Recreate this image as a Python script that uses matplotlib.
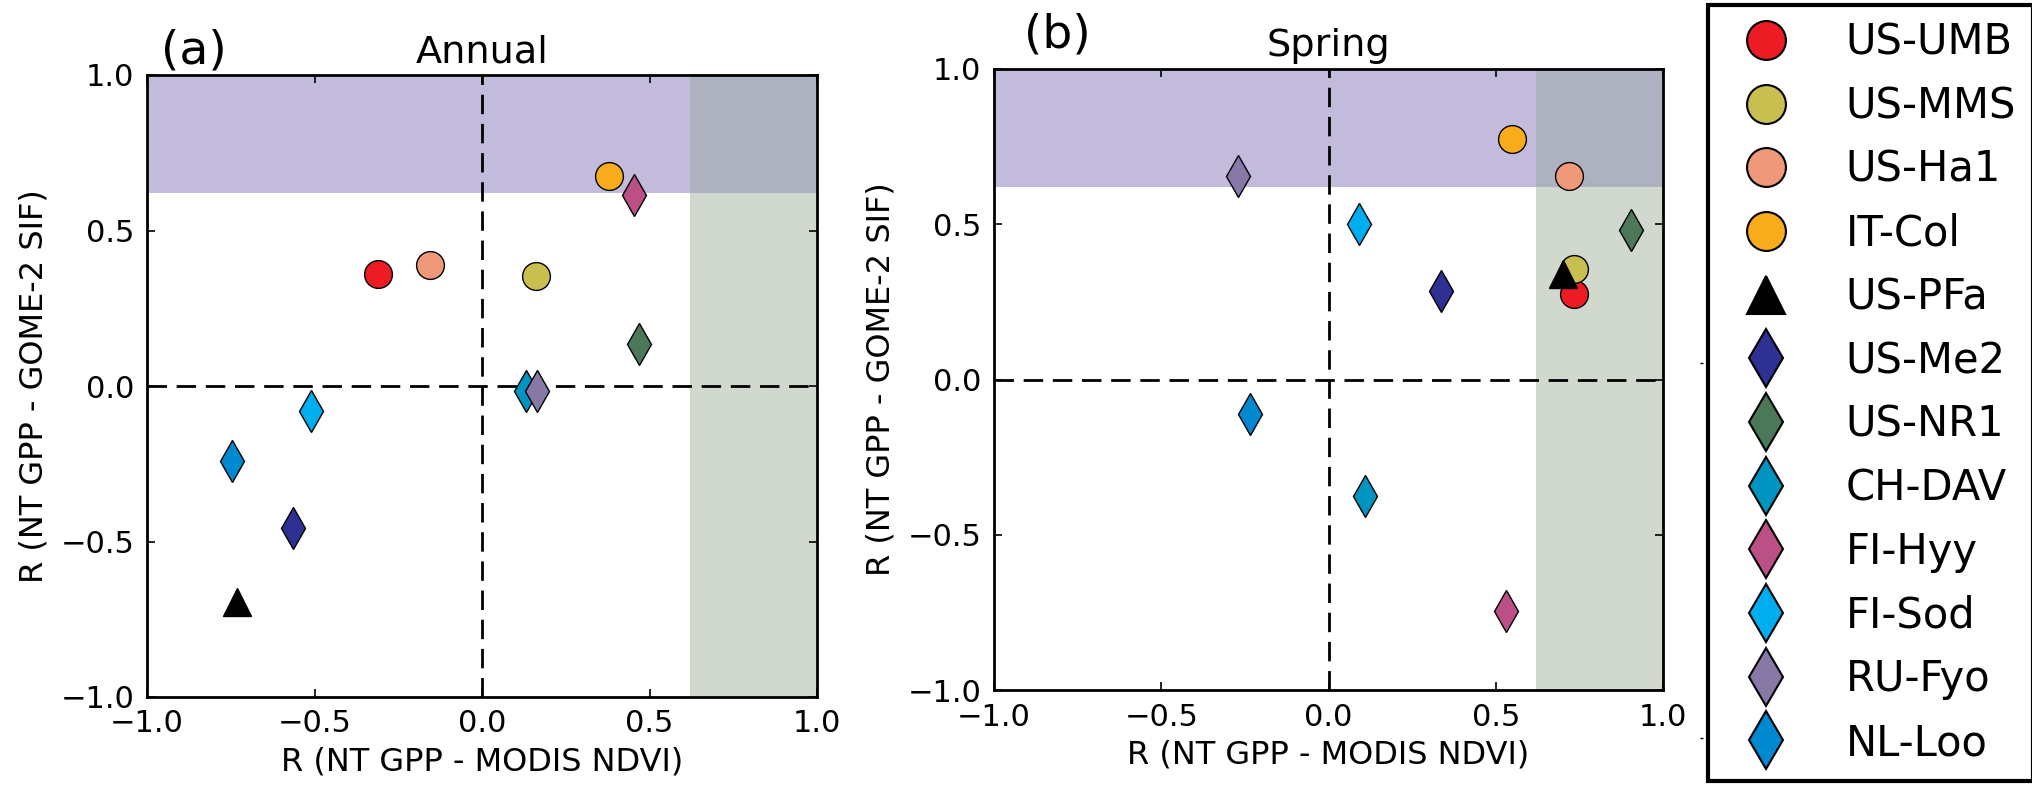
import numpy as np
import matplotlib
matplotlib.use("Agg")
import matplotlib.pyplot as plt
from matplotlib.patches import Rectangle
from matplotlib.lines import Line2D

# Site list and style per site
sites = ["US-UMB", "US-MMS", "US-Ha1", "IT-Col", "US-PFa", "US-Me2",
         "US-NR1", "CH-DAV", "FI-Hyy", "FI-Sod", "RU-Fyo", "NL-Loo"]
colors = ["#ed1c24", "#c9bf50", "#f0997a", "#f8ac1c", "#000000", "#2e3192",
          "#4a7858", "#0095c0", "#bb5086", "#00aeef", "#8878a8", "#0088d1"]
markers = ["o", "o", "o", "o", "^", "d", "d", "d", "d", "d", "d", "d"]

# R (NT GPP - MODIS NDVI) and R (NT GPP - GOME-2 SIF)
x_annual = [-0.31, 0.16, -0.155, 0.38, -0.73, -0.565, 0.47, 0.13, 0.455, -0.51, 0.165, -0.745]
y_annual = [0.36, 0.355, 0.39, 0.675, -0.695, -0.455, 0.135, -0.015, 0.615, -0.08, -0.015, -0.24]
x_spring = [0.735, 0.735, 0.72, 0.55, 0.70, 0.335, 0.905, 0.11, 0.53, 0.09, -0.27, -0.235]
y_spring = [0.275, 0.355, 0.655, 0.775, 0.34, 0.285, 0.48, -0.375, -0.745, 0.50, 0.655, -0.11]

THR = 0.62  # significance threshold for shading

W, H = 2032, 785
fig = plt.figure(figsize=(W / 100, H / 100), dpi=100)
ax1 = fig.add_axes([147 / W, (H - 697) / H, 670 / W, 622 / H])
ax2 = fig.add_axes([994 / W, (H - 690) / H, 669 / W, 621 / H])


def draw_panel(ax, xs, ys, title, tag, tag_x, tag_dy):
    ax.set_xlim(-1, 1)
    ax.set_ylim(-1, 1)
    # shaded zones: high SIF correlation (purple), high NDVI correlation (green)
    ax.add_patch(Rectangle((-1, THR), 1 + THR, 1 - THR, color="#c3bbdb", lw=0, zorder=0))
    ax.add_patch(Rectangle((THR, -1), 1 - THR, 1 + THR, color="#d1d9cf", lw=0, zorder=0))
    ax.add_patch(Rectangle((THR, THR), 1 - THR, 1 - THR, color="#aeb1c0", lw=0, zorder=0))
    ax.axhline(0, color="k", lw=2, ls=(0, (7, 3.5)), zorder=1)
    ax.axvline(0, color="k", lw=2, ls=(0, (7, 3.5)), zorder=1)
    for i in range(len(sites)):
        ms = 21 if markers[i] == "d" else 20
        ax.plot(xs[i], ys[i], marker=markers[i], ms=ms, color=colors[i],
                mec="k", mew=1, ls="none", zorder=3, label=sites[i])
    ax.set_xticks([-1, -0.5, 0, 0.5, 1])
    ax.set_yticks([-1, -0.5, 0, 0.5, 1])
    ax.set_xticklabels(["\u22121.0", "\u22120.5", "0.0", "0.5", "1.0"])
    ax.set_yticklabels(["\u22121.0", "\u22120.5", "0.0", "0.5", "1.0"])
    ax.tick_params(direction="in", top=True, right=True, length=6, width=1.2,
                   labelsize=22, pad=9)
    for s in ax.spines.values():
        s.set_linewidth(2)
    ax.set_xlabel("R (NT GPP - MODIS NDVI)", fontsize=23, labelpad=6)
    ax.set_ylabel("R (NT GPP - GOME-2 SIF)", fontsize=23, labelpad=8)
    ax.set_title(title, fontsize=27.5, pad=9)
    ax.text(tag_x, 1 + tag_dy, tag, transform=ax.transAxes, fontsize=34,
            ha="center", va="baseline")


draw_panel(ax1, x_annual, y_annual, "Annual", "(a)", 0.07, 0.019)
draw_panel(ax2, x_spring, y_spring, "Spring", "(b)", 0.094, 0.034)

# leftover tick marks of the legend column
ax3 = fig.add_axes([1703 / W, (H - 738) / H, 0.001, 750 / H])
ax3.set_ylim(0, 1)
ax3.set_yticks([0, 0.5, 1])
ax3.set_yticklabels([])
ax3.set_xticks([])
ax3.tick_params(axis="y", direction="out", length=2.5, width=1)
for s in ax3.spines.values():
    s.set_visible(False)
ax3.patch.set_visible(False)

handles = []
for i in range(len(sites)):
    ms = 21 if markers[i] == "d" else 20
    handles.append(Line2D([], [], marker=markers[i], ms=ms, color=colors[i],
                          mec="k", mew=1.5, ls="none"))
leg = fig.legend(handles, sites, loc="upper left",
                 bbox_to_anchor=(1708 / W, 1 - 5 / H), borderaxespad=0,
                 fontsize=30, markerscale=1.4, numpoints=1,
                 handlelength=2.0, handletextpad=0.9, labelspacing=0.52,
                 borderpad=0.4, fancybox=False, framealpha=1)
leg.get_frame().set_edgecolor("k")
leg.get_frame().set_linewidth(3)

fig.savefig("out.png", dpi=100)
